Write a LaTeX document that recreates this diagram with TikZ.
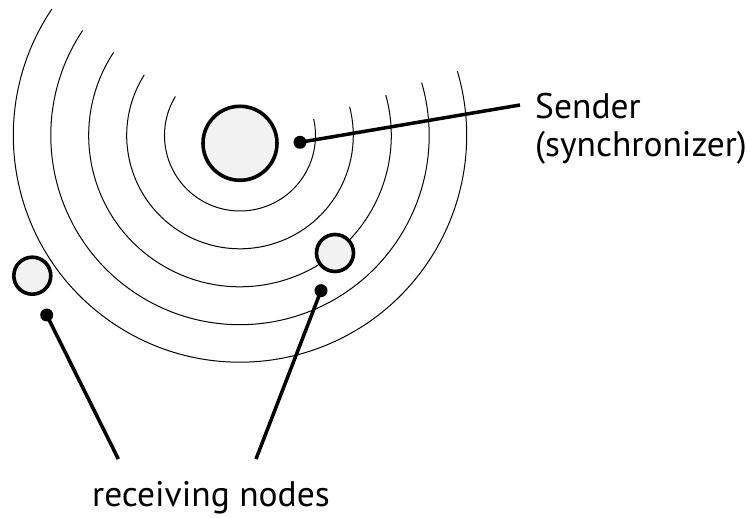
\documentclass[tikz,border=0pt]{standalone}
\usepackage{fontspec}
\setmainfont{PT Sans}
\begin{document}
\begin{tikzpicture}[x=1pt,y=1pt,
  wave/.style={line width=1pt},
  station/.style={circle,draw,line width=3.6pt,fill=black!5,inner sep=0pt},
  pin/.style={circle,fill=black,inner sep=0pt,minimum size=13pt},
  leader/.style={line width=3.5pt},
  label/.style={font=\fontsize{35.5}{38.4}\selectfont,inner sep=0pt}]
\useasboundingbox (0,0) rectangle (750,518);

% concentric wave fronts around the sender
\coordinate (c) at (240,382.5);
\foreach \r/\a/\b in {75.5/148.9/372.6, 113.3/147.7/374.7, 151.3/146.7/375.5,
                      189.2/146.3/376.2, 226.7/146.1/376.5}
  \draw[wave] (c) ++(\a:\r) arc[start angle=\a, end angle=\b, radius=\r];

% sender and receivers
\node[station,minimum size=74pt] (sender) at (240,374.7) {};
\node[station,minimum size=37pt] (rxright) at (335,265) {};
\node[station,minimum size=37pt] (rxleft) at (32.3,242.3) {};

% leader dots
\node[pin] (psender) at (300,375.7) {};
\node[pin] (pright) at (321,227.3) {};
\node[pin] (pleft) at (46.7,203) {};

% labels
\node[label,anchor=base west,align=left] (lsender) at (535,361.3) {Sender\\(synchronizer)};
\node[label,anchor=base] (lrecv) at (211,11.3) {receiving nodes};

% leader lines
\coordinate (esender) at (520,413);
\coordinate (eleft) at (118.3,59);
\coordinate (eright) at (256,59);
\draw[leader] (psender.center) -- (esender);
\draw[leader] (pleft.center) -- (eleft);
\draw[leader] (pright.center) -- (eright);
\end{tikzpicture}
\end{document}
